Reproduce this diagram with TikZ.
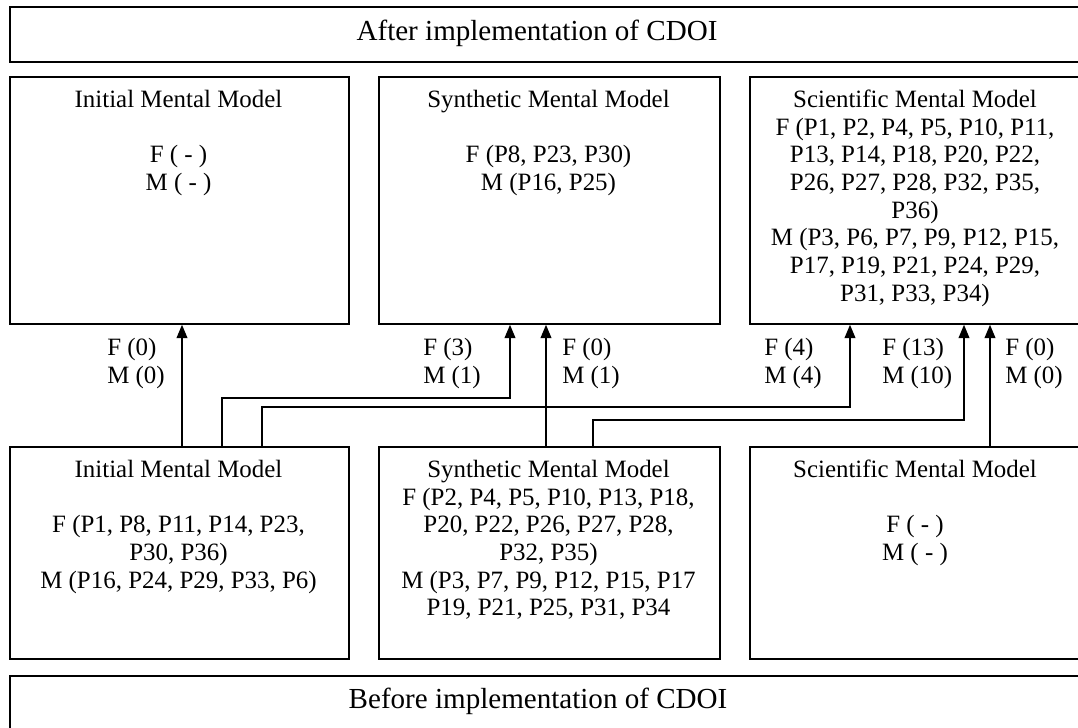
\documentclass[tikz,border=0pt]{standalone}
\usepackage{fontspec}
\setmainfont{Liberation Serif}
\usetikzlibrary{arrows.meta}
\begin{document}
\begin{tikzpicture}[x=0.75pt,y=-0.75pt,
  box/.style={draw, line width=1.3pt, rectangle, anchor=north west, inner sep=0pt},
  txt/.style={anchor=north, align=center, inner sep=0pt, font=\fontsize{18.7}{20.8}\selectfont},
  lbl/.style={anchor=north west, align=left, inner sep=0pt, font=\fontsize{18.7}{21}\selectfont},
  banner/.style={anchor=base, inner sep=0pt, font=\fontsize{21.8}{24}\selectfont},
  conn/.style={line width=1.3pt, -{Triangle[length=10pt,width=8pt]}}]
\useasboundingbox (0,0) rectangle (1078,728);
\clip (0,0) rectangle (1078,728);
% boxes
\node[box, minimum width=810.75pt, minimum height=41.25pt] (ta) at (9,6) {};
\node[box, minimum width=254.25pt, minimum height=185.25pt] (tb1) at (9,76) {};
\node[box, minimum width=255.75pt, minimum height=185.25pt] (tb2) at (378,76) {};
\node[box, minimum width=249pt, minimum height=185.25pt] (tb3) at (749,76) {};
\node[box, minimum width=254.25pt, minimum height=159pt] (bb1) at (9,446) {};
\node[box, minimum width=255.75pt, minimum height=159pt] (bb2) at (378,446) {};
\node[box, minimum width=249pt, minimum height=159pt] (bb3) at (749,446) {};
\node[box, minimum width=810.75pt, minimum height=45pt] (ba) at (9,675) {};
% banner texts
\node[banner] (tat) at (537,40) {After implementation of CDOI};
\node[banner] (bat) at (538,708) {Before implementation of CDOI};
% box texts
\node[txt] (tt1) at (178.5,87.6) {\strut Initial Mental Model\\[20.8pt] F ( - )\\ M ( - )};
\node[txt] (tt2) at (548.5,87.6) {\strut Synthetic Mental Model\\[20.8pt] F (P8, P23, P30)\\ M (P16, P25)};
\node[txt] (tt3) at (915,87.6) {\strut Scientific Mental Model\\ F (P1, P2, P4, P5, P10, P11,\\ P13, P14, P18, P20, P22,\\ P26, P27, P28, P32, P35,\\ P36)\\ M (P3, P6, P7, P9, P12, P15,\\ P17, P19, P21, P24, P29,\\ P31, P33, P34)};
\node[txt] (bt1) at (178.5,457.6) {\strut Initial Mental Model\\[20.8pt] F (P1, P8, P11, P14, P23,\\ P30, P36)\\ M (P16, P24, P29, P33, P6)};
\node[txt] (bt2) at (548.5,457.6) {\strut Synthetic Mental Model\\ F (P2, P4, P5, P10, P13, P18,\\ P20, P22, P26, P27, P28,\\ P32, P35)\\ M (P3, P7, P9, P12, P15, P17\\ P19, P21, P25, P31, P34};
\node[txt] (bt3) at (915,457.6) {\strut Scientific Mental Model\\[20.8pt] F ( - )\\ M ( - )};
% connector labels
\node[lbl] (l1) at (107,335.4) {\strut F (0)\\ M (0)};
\node[lbl] (l2) at (423,335.4) {\strut F (3)\\ M (1)};
\node[lbl] (l3) at (562,335.4) {\strut F (0)\\ M (1)};
\node[lbl] (l4) at (764,335.4) {\strut F (4)\\ M (4)};
\node[lbl] (l5) at (882,335.4) {\strut F (13)\\ M (10)};
\node[lbl] (l6) at (1005,335.4) {\strut F (0)\\ M (0)};
% connector helper coordinates
\coordinate (x1) at (182,0);
\coordinate (x2) at (222,0);
\coordinate (x2b) at (510,0);
\coordinate (x3) at (262,0);
\coordinate (x3b) at (850,0);
\coordinate (x4) at (546,0);
\coordinate (x5) at (593,0);
\coordinate (x5b) at (964,0);
\coordinate (x6) at (990,0);
\coordinate (h2) at (0,398);
\coordinate (h3) at (0,407);
\coordinate (h5) at (0,420);
% connectors
\draw[conn] (bb1.north -| x1) -- (tb1.south -| x1);
\draw[conn] (bb1.north -| x2) -- (x2 |- h2) -- (x2b |- h2) -- (tb2.south -| x2b);
\draw[conn] (bb1.north -| x3) -- (x3 |- h3) -- (x3b |- h3) -- (tb3.south -| x3b);
\draw[conn] (bb2.north -| x4) -- (tb2.south -| x4);
\draw[conn] (bb2.north -| x5) -- (x5 |- h5) -- (x5b |- h5) -- (tb3.south -| x5b);
\draw[conn] (bb3.north -| x6) -- (tb3.south -| x6);
\end{tikzpicture}
\end{document}
